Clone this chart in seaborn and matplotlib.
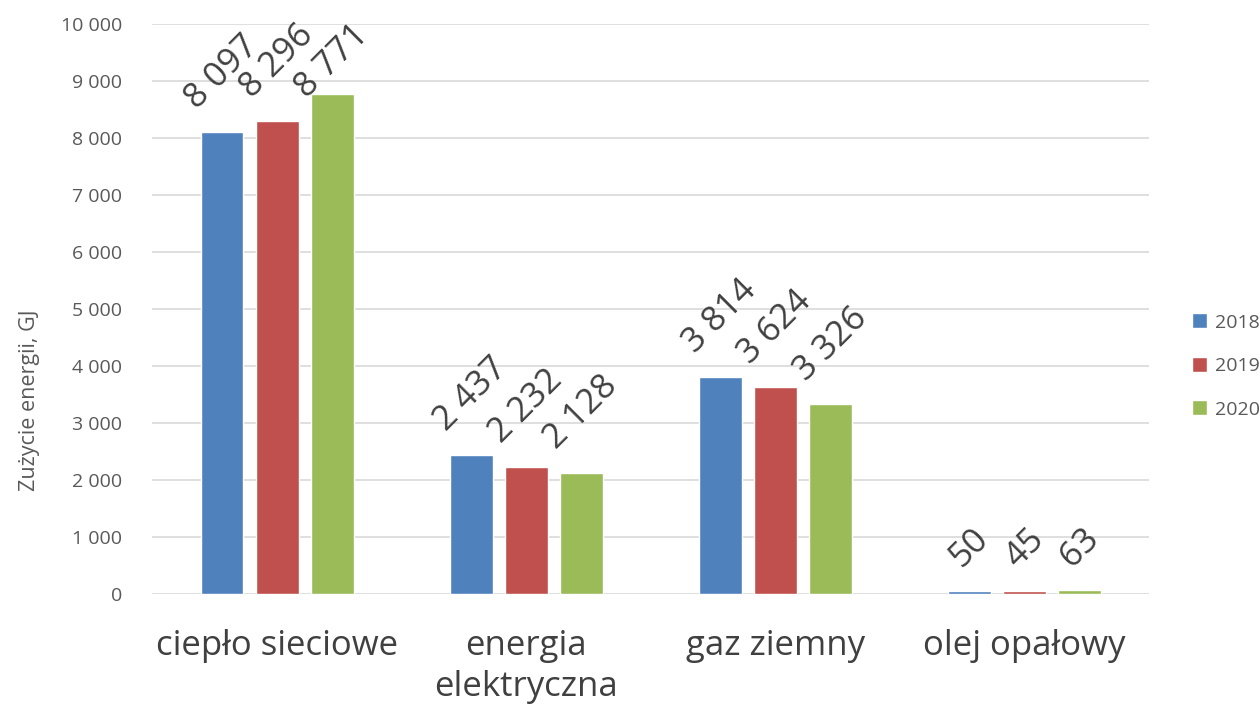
import pandas as pd
import matplotlib
matplotlib.use("Agg")
import matplotlib.pyplot as plt
import seaborn as sns

# data
categories = ["ciepło sieciowe", "energia\nelektryczna", "gaz ziemny", "olej opałowy"]
years = ["2018", "2019", "2020"]
values_2018 = [8097, 2437, 3814, 50]
values_2019 = [8296, 2232, 3624, 45]
values_2020 = [8771, 2128, 3326, 63]
palette = ["#4F81BD", "#C0504D", "#9BBB59"]

rows = []
for year, vals in zip(years, [values_2018, values_2019, values_2020]):
    for cat, v in zip(categories, vals):
        rows.append({"kategoria": cat, "rok": year, "wartosc": v})
df = pd.DataFrame(rows)

sns.set_theme(style="white")
plt.rcParams['font.family'] = ['Open Sans', 'DejaVu Sans']

fig = plt.figure(figsize=(12.6, 7.11), dpi=100)
ax = fig.add_axes([0.121, 0.1646, 0.791, 0.8017])

sns.barplot(data=df, x="kategoria", y="wartosc", hue="rok", palette=palette,
            width=0.663, gap=0.22, saturation=1, ax=ax, legend=True)

ax.set_ylim(0, 10000)
ax.set_yticks(range(0, 10001, 1000))
ax.set_yticklabels([f"{t:,}".replace(",", " ") for t in range(0, 10001, 1000)],
                   fontsize=14, color="#595959")
ax.set_xlim(-0.5, 3.5)
ax.tick_params(axis="x", labelsize=25, labelcolor="#404040", length=0, pad=25)
for lbl in ax.get_xticklabels():
    lbl.set_linespacing(1.3)
ax.tick_params(axis="y", length=0, pad=22)
ax.grid(axis="y", color="#d9d9d9", linewidth=1.2)
ax.set_axisbelow(True)
for s in ax.spines.values():
    s.set_visible(False)
ax.set_xlabel("")
ax.set_ylabel("Zużycie energii, GJ", fontsize=15.5, color="#595959",
              family=['Liberation Sans Narrow', 'Open Sans'])
ax.yaxis.set_label_coords(-0.113, 0.34)

# rotated data labels, kept inside the figure like Excel does
fig.canvas.draw()
renderer = fig.canvas.get_renderer()
top_limit = fig.bbox.height - 18
for cont in ax.containers:
    for bar in cont:
        h = bar.get_height()
        t = ax.text(bar.get_x() + bar.get_width() / 2, h + 300,
                    f"{int(h):,}".replace(",", " "), rotation=45,
                    ha="center", va="bottom", fontsize=25, color="#404040")
        bb = t.get_window_extent(renderer)
        if bb.y1 > top_limit:
            x0, y0 = ax.transData.transform((0, h + 300))
            _, ynew = ax.transData.inverted().transform((x0, y0 - (bb.y1 - top_limit)))
            t.set_y(ynew)

handles, labels = ax.get_legend_handles_labels()
ax.legend(handles, labels, loc="center left", bbox_to_anchor=(1.025, 0.40),
          frameon=False, fontsize=14, handlelength=0.8, handleheight=0.8,
          labelspacing=1.3, handletextpad=0.4, labelcolor="#595959")

fig.savefig("out.png", dpi=100)
